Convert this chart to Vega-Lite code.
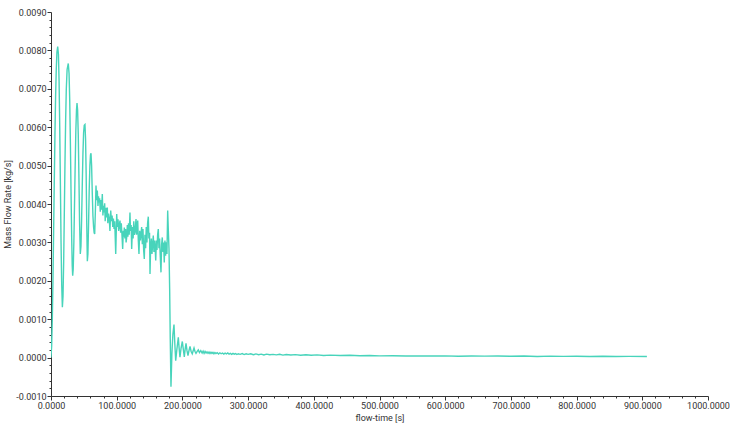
{
  "$schema": "https://vega.github.io/schema/vega-lite/v6.json",
  "width": 657,
  "height": 384,
  "autosize": {"type": "none"},
  "padding": {"left": 51, "top": 12, "right": 26, "bottom": 28},
  "background": "white",
  "config": {
    "view": {"stroke": null},
    "axis": {
      "grid": false,
      "domainColor": "#333333",
      "tickColor": "#333333",
      "labelFont": "Roboto",
      "labelFontSize": 9,
      "labelColor": "#333333",
      "titleFont": "Roboto",
      "titleFontSize": 9,
      "titleFontWeight": "normal",
      "titleColor": "#333333",
      "labelOverlap": false,
      "labelFlush": false,
      "labelBound": false
    }
  },
  "data": {
    "values": [
      {"t": 0, "v": 0.0}, {"t": 1, "v": 0.0003}, {"t": 2, "v": 0.001}, {"t": 3, "v": 0.002}, {"t": 4, "v": 0.0033},
      {"t": 5, "v": 0.0046}, {"t": 6, "v": 0.0058}, {"t": 7, "v": 0.0068}, {"t": 8, "v": 0.0075}, {"t": 9, "v": 0.00795},
      {"t": 10.2, "v": 0.0081}, {"t": 11.3, "v": 0.0079}, {"t": 12.3, "v": 0.0072}, {"t": 13.3, "v": 0.006}, {"t": 14.3, "v": 0.0045},
      {"t": 15.3, "v": 0.003}, {"t": 16.3, "v": 0.0019}, {"t": 17.3, "v": 0.00131}, {"t": 18.3, "v": 0.0016}, {"t": 19.3, "v": 0.0025},
      {"t": 20.3, "v": 0.0038}, {"t": 21.3, "v": 0.0051}, {"t": 22.3, "v": 0.0062}, {"t": 23.3, "v": 0.007}, {"t": 24.5, "v": 0.0075},
      {"t": 26.3, "v": 0.00766}, {"t": 27.5, "v": 0.0074}, {"t": 28.5, "v": 0.0067}, {"t": 29.5, "v": 0.0056}, {"t": 30.5, "v": 0.0043},
      {"t": 31.5, "v": 0.0031}, {"t": 32.3, "v": 0.0024}, {"t": 33.0, "v": 0.00213}, {"t": 33.8, "v": 0.0023}, {"t": 34.8, "v": 0.003},
      {"t": 35.8, "v": 0.004}, {"t": 36.8, "v": 0.005}, {"t": 37.8, "v": 0.0059}, {"t": 38.8, "v": 0.00645}, {"t": 39.6, "v": 0.00663},
      {"t": 40.5, "v": 0.00645}, {"t": 41.5, "v": 0.0058}, {"t": 42.5, "v": 0.0047}, {"t": 43.5, "v": 0.0035}, {"t": 44.6, "v": 0.0027},
      {"t": 45.6, "v": 0.0029}, {"t": 46.6, "v": 0.0036}, {"t": 47.6, "v": 0.0045}, {"t": 48.6, "v": 0.0053}, {"t": 49.6, "v": 0.00585},
      {"t": 50.6, "v": 0.00605}, {"t": 51.7, "v": 0.00607}, {"t": 52.6, "v": 0.0057}, {"t": 53.5, "v": 0.0048}, {"t": 54.4, "v": 0.0035},
      {"t": 55.3, "v": 0.00251}, {"t": 56.2, "v": 0.0027}, {"t": 57.2, "v": 0.0035}, {"t": 58.2, "v": 0.0044}, {"t": 59.2, "v": 0.005},
      {"t": 60.1, "v": 0.00528}, {"t": 60.9, "v": 0.00532}, {"t": 61.8, "v": 0.005}, {"t": 62.8, "v": 0.0043}, {"t": 63.8, "v": 0.0037},
      {"t": 64.8, "v": 0.0034}, {"t": 65.7, "v": 0.00325}, {"t": 66.5, "v": 0.00322}, {"t": 67.5, "v": 0.0038}, {"t": 68.5, "v": 0.00448},
      {"t": 69.5, "v": 0.0041}, {"t": 70.5, "v": 0.00435}, {"t": 71.5, "v": 0.00395}, {"t": 72.3, "v": 0.0042}, {"t": 73.1, "v": 0.00404},
      {"t": 74, "v": 0.00415}, {"t": 75, "v": 0.0038}, {"t": 76, "v": 0.0041}, {"t": 77, "v": 0.00385}, {"t": 78.1, "v": 0.00426},
      {"t": 79, "v": 0.0037}, {"t": 80, "v": 0.00395}, {"t": 80.7, "v": 0.00378}, {"t": 81.7, "v": 0.00402}, {"t": 82.5, "v": 0.00355},
      {"t": 83.5, "v": 0.0039}, {"t": 84.5, "v": 0.00365}, {"t": 85.7, "v": 0.00391}, {"t": 86.5, "v": 0.0035}, {"t": 87.5, "v": 0.00375},
      {"t": 88.7, "v": 0.00361}, {"t": 89.7, "v": 0.0033}, {"t": 90.9, "v": 0.00383}, {"t": 92, "v": 0.00355}, {"t": 93, "v": 0.0037},
      {"t": 94, "v": 0.0034}, {"t": 95, "v": 0.00362}, {"t": 96, "v": 0.00335}, {"t": 97, "v": 0.00355}, {"t": 98.5, "v": 0.0027},
      {"t": 100, "v": 0.00374}, {"t": 101, "v": 0.0034}, {"t": 102, "v": 0.0036}, {"t": 103, "v": 0.0033}, {"t": 104, "v": 0.00345},
      {"t": 105, "v": 0.00357}, {"t": 106, "v": 0.00325}, {"t": 107, "v": 0.0035}, {"t": 108, "v": 0.0032}, {"t": 109.1, "v": 0.00283},
      {"t": 110, "v": 0.0033}, {"t": 111, "v": 0.00315}, {"t": 111.6, "v": 0.00339}, {"t": 112.5, "v": 0.0031}, {"t": 113.5, "v": 0.00335},
      {"t": 114.3, "v": 0.003}, {"t": 115.2, "v": 0.00313}, {"t": 116.2, "v": 0.00345}, {"t": 117, "v": 0.00315}, {"t": 118, "v": 0.0035},
      {"t": 119, "v": 0.0032}, {"t": 120.2, "v": 0.00378}, {"t": 121, "v": 0.0033}, {"t": 122, "v": 0.00345}, {"t": 122.8, "v": 0.00283},
      {"t": 124, "v": 0.0034}, {"t": 125, "v": 0.0031}, {"t": 126, "v": 0.00355}, {"t": 127, "v": 0.0032}, {"t": 127.9, "v": 0.00326},
      {"t": 128.7, "v": 0.00345}, {"t": 129.4, "v": 0.00361}, {"t": 130.3, "v": 0.0032}, {"t": 131.2, "v": 0.00345}, {"t": 132, "v": 0.00357},
      {"t": 132.9, "v": 0.00305}, {"t": 133.9, "v": 0.0027}, {"t": 135, "v": 0.0033}, {"t": 136, "v": 0.00305}, {"t": 137, "v": 0.00322},
      {"t": 138, "v": 0.0034}, {"t": 139, "v": 0.00295}, {"t": 140, "v": 0.00335}, {"t": 141, "v": 0.0028}, {"t": 142, "v": 0.00257},
      {"t": 143, "v": 0.0032}, {"t": 144, "v": 0.00285}, {"t": 145, "v": 0.0034}, {"t": 146, "v": 0.003}, {"t": 147, "v": 0.0035},
      {"t": 148.1, "v": 0.00367}, {"t": 149, "v": 0.0031}, {"t": 150, "v": 0.00325}, {"t": 150.7, "v": 0.00218}, {"t": 151.7, "v": 0.0029},
      {"t": 152.7, "v": 0.0031}, {"t": 153.7, "v": 0.0027}, {"t": 154.7, "v": 0.00295}, {"t": 155.7, "v": 0.00318}, {"t": 156.7, "v": 0.00275},
      {"t": 157.7, "v": 0.00305}, {"t": 158.5, "v": 0.00285}, {"t": 159.4, "v": 0.00253}, {"t": 160.4, "v": 0.00305}, {"t": 161.3, "v": 0.0028},
      {"t": 162.3, "v": 0.0032}, {"t": 163.3, "v": 0.00335}, {"t": 164.3, "v": 0.00285}, {"t": 165.3, "v": 0.0031}, {"t": 166.4, "v": 0.0026},
      {"t": 167.4, "v": 0.00222}, {"t": 168.4, "v": 0.00295}, {"t": 169.4, "v": 0.00313}, {"t": 170.4, "v": 0.00275}, {"t": 171.4, "v": 0.003},
      {"t": 172.4, "v": 0.00248}, {"t": 173.4, "v": 0.00305}, {"t": 174.4, "v": 0.00265}, {"t": 175.4, "v": 0.003}, {"t": 176.5, "v": 0.0027},
      {"t": 177.6, "v": 0.00383}, {"t": 178.6, "v": 0.0033}, {"t": 179.6, "v": 0.00283}, {"t": 180.6, "v": 0.0018}, {"t": 181.5, "v": 0.0005},
      {"t": 182.6, "v": -0.00076}, {"t": 184, "v": 0.0001}, {"t": 185.5, "v": 0.0006}, {"t": 187.2, "v": 0.00086}, {"t": 188.5, "v": 0.00035},
      {"t": 189.8, "v": -0.00008}, {"t": 191.5, "v": 0.0002}, {"t": 193.8, "v": 0.00053}, {"t": 195, "v": 0.00025}, {"t": 196.3, "v": 0.00001},
      {"t": 198, "v": 0.00025}, {"t": 199.9, "v": 0.00042}, {"t": 201.5, "v": 0.0002}, {"t": 202.9, "v": 0.00002}, {"t": 204.2, "v": 0.00022},
      {"t": 205.5, "v": 0.00037}, {"t": 207, "v": 0.00018}, {"t": 208.5, "v": 0.00005}, {"t": 210, "v": 0.00018}, {"t": 211.6, "v": 0.00029},
      {"t": 213.3, "v": 0.00016}, {"t": 215, "v": 0.0001}, {"t": 216.4, "v": 0.00018}, {"t": 217.7, "v": 0.00025}, {"t": 219.2, "v": 0.00016},
      {"t": 220.7, "v": 0.00011}, {"t": 222.5, "v": 0.00016}, {"t": 224.2, "v": 0.0002}, {"t": 226, "v": 0.00013}, {"t": 228, "v": 0.00018},
      {"t": 230, "v": 0.00012}, {"t": 231.5, "v": 0.00017}, {"t": 233, "v": 0.00011}, {"t": 234.5, "v": 0.00016}, {"t": 236, "v": 0.00012},
      {"t": 237.5, "v": 0.00015}, {"t": 239, "v": 0.00011}, {"t": 240.5, "v": 0.000145}, {"t": 242, "v": 0.000105}, {"t": 243.5, "v": 0.00014},
      {"t": 245, "v": 0.00011}, {"t": 246.5, "v": 0.000135}, {"t": 248, "v": 0.0001}, {"t": 249.5, "v": 0.00013}, {"t": 251, "v": 0.000105},
      {"t": 253, "v": 0.00013}, {"t": 255, "v": 0.000095}, {"t": 257, "v": 0.000125}, {"t": 259, "v": 0.0001}, {"t": 261, "v": 0.00012},
      {"t": 263, "v": 0.00009}, {"t": 265, "v": 0.000115}, {"t": 267, "v": 0.000095}, {"t": 269, "v": 0.00012}, {"t": 271, "v": 0.00009},
      {"t": 273, "v": 0.00011}, {"t": 275, "v": 0.000085}, {"t": 277, "v": 0.00011}, {"t": 279, "v": 0.00009}, {"t": 281, "v": 0.000105},
      {"t": 283, "v": 0.00008}, {"t": 285, "v": 0.0001}, {"t": 288, "v": 0.000085}, {"t": 291, "v": 0.000105}, {"t": 294, "v": 0.00008},
      {"t": 297, "v": 0.0001}, {"t": 300, "v": 0.000085}, {"t": 304, "v": 0.0001}, {"t": 308, "v": 0.000075}, {"t": 312, "v": 0.000095},
      {"t": 316, "v": 0.000075}, {"t": 320, "v": 0.00009}, {"t": 324, "v": 0.00007}, {"t": 328, "v": 0.00009}, {"t": 333, "v": 0.000075},
      {"t": 338, "v": 0.000085}, {"t": 343, "v": 0.00007}, {"t": 348, "v": 0.000085}, {"t": 353, "v": 0.000065}, {"t": 358, "v": 0.00008},
      {"t": 365, "v": 0.000068}, {"t": 372, "v": 0.000078}, {"t": 380, "v": 0.00006}, {"t": 388, "v": 0.000075}, {"t": 396, "v": 0.00006},
      {"t": 405, "v": 0.00007}, {"t": 415, "v": 0.000055}, {"t": 425, "v": 0.000065}, {"t": 440, "v": 0.000055}, {"t": 455, "v": 0.00006},
      {"t": 470, "v": 0.00005}, {"t": 485, "v": 0.000055}, {"t": 500, "v": 0.000045}, {"t": 520, "v": 0.00005}, {"t": 540, "v": 0.00004},
      {"t": 560, "v": 0.000045}, {"t": 580, "v": 0.00004}, {"t": 600, "v": 0.000045}, {"t": 620, "v": 0.000035}, {"t": 640, "v": 0.000042},
      {"t": 660, "v": 0.000038}, {"t": 680, "v": 0.00004}, {"t": 700, "v": 0.000035}, {"t": 720, "v": 0.00004}, {"t": 740, "v": 0.00003},
      {"t": 760, "v": 0.000038}, {"t": 780, "v": 0.000032}, {"t": 800, "v": 0.000036}, {"t": 820, "v": 0.00003}, {"t": 840, "v": 0.000035},
      {"t": 860, "v": 0.00003}, {"t": 880, "v": 0.000033}, {"t": 907, "v": 0.00003}
    ]
  },
  "mark": {"type": "line", "color": "#48d4bb", "strokeWidth": 1.4, "clip": true},
  "encoding": {
    "x": {
      "field": "t",
      "type": "quantitative",
      "scale": {"domain": [0, 1000], "nice": false, "zero": false},
      "axis": {
        "title": "flow-time [s]",
        "values": [0, 20, 40, 60, 80, 100, 120, 140, 160, 180, 200, 220, 240, 260, 280, 300, 320, 340, 360, 380, 400, 420, 440, 460, 480, 500, 520, 540, 560, 580, 600, 620, 640, 660, 680, 700, 720, 740, 760, 780, 800, 820, 840, 860, 880, 900, 920, 940, 960, 980, 1000],
        "labelExpr": "datum.value % 100 === 0 ? format(datum.value, '.4f') : ''",
        "tickSize": {"condition": {"test": "datum.value % 100 === 0", "value": 4}, "value": 2},
        "labelPadding": 1,
        "titlePadding": 3
      }
    },
    "y": {
      "field": "v",
      "type": "quantitative",
      "scale": {"domain": [-0.001, 0.009], "nice": false, "zero": false},
      "axis": {
        "title": "Mass Flow Rate [kg/s]",
        "values": [-0.001, -0.0008, -0.0006, -0.0004, -0.0002, 0, 0.0002, 0.0004, 0.0006, 0.0008, 0.001, 0.0012, 0.0014, 0.0016, 0.0018, 0.002, 0.0022, 0.0024, 0.0026, 0.0028, 0.003, 0.0032, 0.0034, 0.0036, 0.0038, 0.004, 0.0042, 0.0044, 0.0046, 0.0048, 0.005, 0.0052, 0.0054, 0.0056, 0.0058, 0.006, 0.0062, 0.0064, 0.0066, 0.0068, 0.007, 0.0072, 0.0074, 0.0076, 0.0078, 0.008, 0.0082, 0.0084, 0.0086, 0.0088, 0.009],
        "labelExpr": "abs(datum.value * 1000 - round(datum.value * 1000)) < 0.001 ? replace(format(datum.value, '.4f'), '\u2212', '-') : ''",
        "tickSize": {"condition": {"test": "abs(datum.value * 1000 - round(datum.value * 1000)) < 0.001", "value": 4}, "value": 2},
        "labelPadding": 1,
        "titlePadding": 3
      }
    }
  }
}
